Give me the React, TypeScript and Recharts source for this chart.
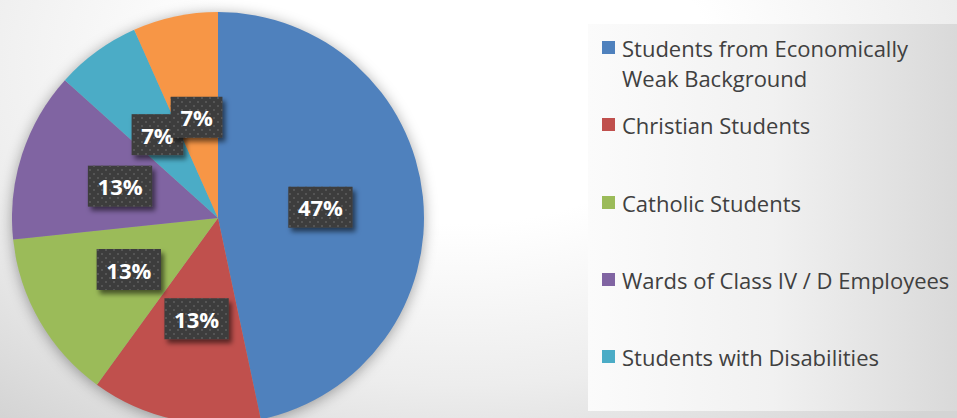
import React from "react";
import { PieChart, Pie, Cell, Legend } from "recharts";

const categories = [
  "Students from Economically Weak Background",
  "Christian Students",
  "Catholic Students",
  "Wards of Class IV / D Employees",
  "Students with Disabilities",
  "Others",
];
const counts = [7, 2, 2, 2, 1, 1];
const colors = ["#4f81bd", "#c0504d", "#9bbb59", "#8064a2", "#4bacc6", "#f79646"];
// the legend box only has room for this many entries (the rest fall below the picture)
const legendVisibleCount = 5;

const data = categories.map((name, i) => ({ name, value: counts[i] }));

const RADIAN = Math.PI / 180;
const LABEL_FS = 22;

const renderLabel = (props: any) => {
  const { cx, cy, midAngle, outerRadius, percent } = props;
  const r = outerRadius * 0.5;
  const x = cx + r * Math.cos(-midAngle * RADIAN);
  const y = cy + r * Math.sin(-midAngle * RADIAN);
  const text = `${Math.round(percent * 100)}%`;
  const digits = text.length - 1;
  const tw = digits * 0.572 * LABEL_FS + 0.87 * LABEL_FS;
  const w = tw + 20;
  const h = 41;
  return (
    <g>
      <g filter="url(#lblShadow)">
        <rect x={x - w / 2} y={y - h / 2} width={w} height={h} fill="#3d3d3d" />
      </g>
      <rect x={x - w / 2} y={y - h / 2} width={w} height={h} fill="url(#dots)" />
      <text
        x={x}
        y={y}
        fill="#ffffff"
        textAnchor="middle"
        dominantBaseline="central"
        fontFamily="'Open Sans', sans-serif"
        fontWeight={700}
        fontSize={LABEL_FS}
      >
        {text}
      </text>
    </g>
  );
};

const LegendContent = () => (
  <div
    style={{
      width: 369,
      height: 387,
      overflow: "hidden",
      background: "linear-gradient(to right, #fbfbfb 0%, #f1f1f1 50%, #d9d9d9 100%)",
      boxSizing: "border-box",
      paddingTop: 9,
      fontFamily: "'Open Sans', sans-serif",
      fontSize: 22,
      color: "#404040",
    }}
  >
    {categories.slice(0, legendVisibleCount).map((name, i) => (
      <div
        key={name}
        style={{ height: 77.3, display: "flex", alignItems: "flex-start", position: "relative" }}
      >
        <div
          style={{
            position: "absolute",
            left: 14,
            top: 8,
            width: 13,
            height: 13,
            background: colors[i],
          }}
        />
        <div style={{ position: "absolute", left: 34, top: 0, width: 334, lineHeight: "30px", whiteSpace: "normal" }}>
          {name}
        </div>
      </div>
    ))}
  </div>
);

export default function App() {
  return (
    <div
      style={{
        position: "absolute",
        left: 0,
        top: 0,
        width: 957,
        height: 418,
        overflow: "hidden",
        background:
          "radial-gradient(ellipse 75% 110% at 48% 15%, #ffffff 0%, #ffffff 35%, #ededed 70%, #d4d4d4 100%)",
      }}
    >
      <style>{`.recharts-pie { filter: drop-shadow(0px 2px 7px rgba(0,0,0,0.35)); }`}</style>
      <svg width={0} height={0} style={{ position: "absolute" }}>
        <defs>
          <filter id="lblShadow" x="-30%" y="-30%" width="170%" height="180%">
            <feDropShadow dx="3" dy="4" stdDeviation="2.5" floodColor="#000" floodOpacity="0.55" />
          </filter>
          <pattern id="dots" width="8" height="8" patternUnits="userSpaceOnUse">
            <rect x="1" y="1" width="2" height="2" fill="#555555" />
            <rect x="5" y="5" width="2" height="2" fill="#555555" />
          </pattern>
        </defs>
      </svg>
      <PieChart
        width={957}
        height={418}
        margin={{ top: 0, right: 0, bottom: 0, left: 0 }}
        style={{ overflow: "visible" }}
      >
        <Pie
          data={data}
          dataKey="value"
          nameKey="name"
          cx={218}
          cy={218}
          outerRadius={206}
          startAngle={90}
          endAngle={-270}
          stroke="none"
          label={renderLabel}
          labelLine={false}
          isAnimationActive={false}
        >
          {data.map((d, i) => (
            <Cell key={d.name} fill={colors[i]} />
          ))}
        </Pie>
        <Legend
          content={<LegendContent />}
          wrapperStyle={{ position: "absolute", left: 588, top: 24, width: 369, height: 387 }}
        />
      </PieChart>
    </div>
  );
}
